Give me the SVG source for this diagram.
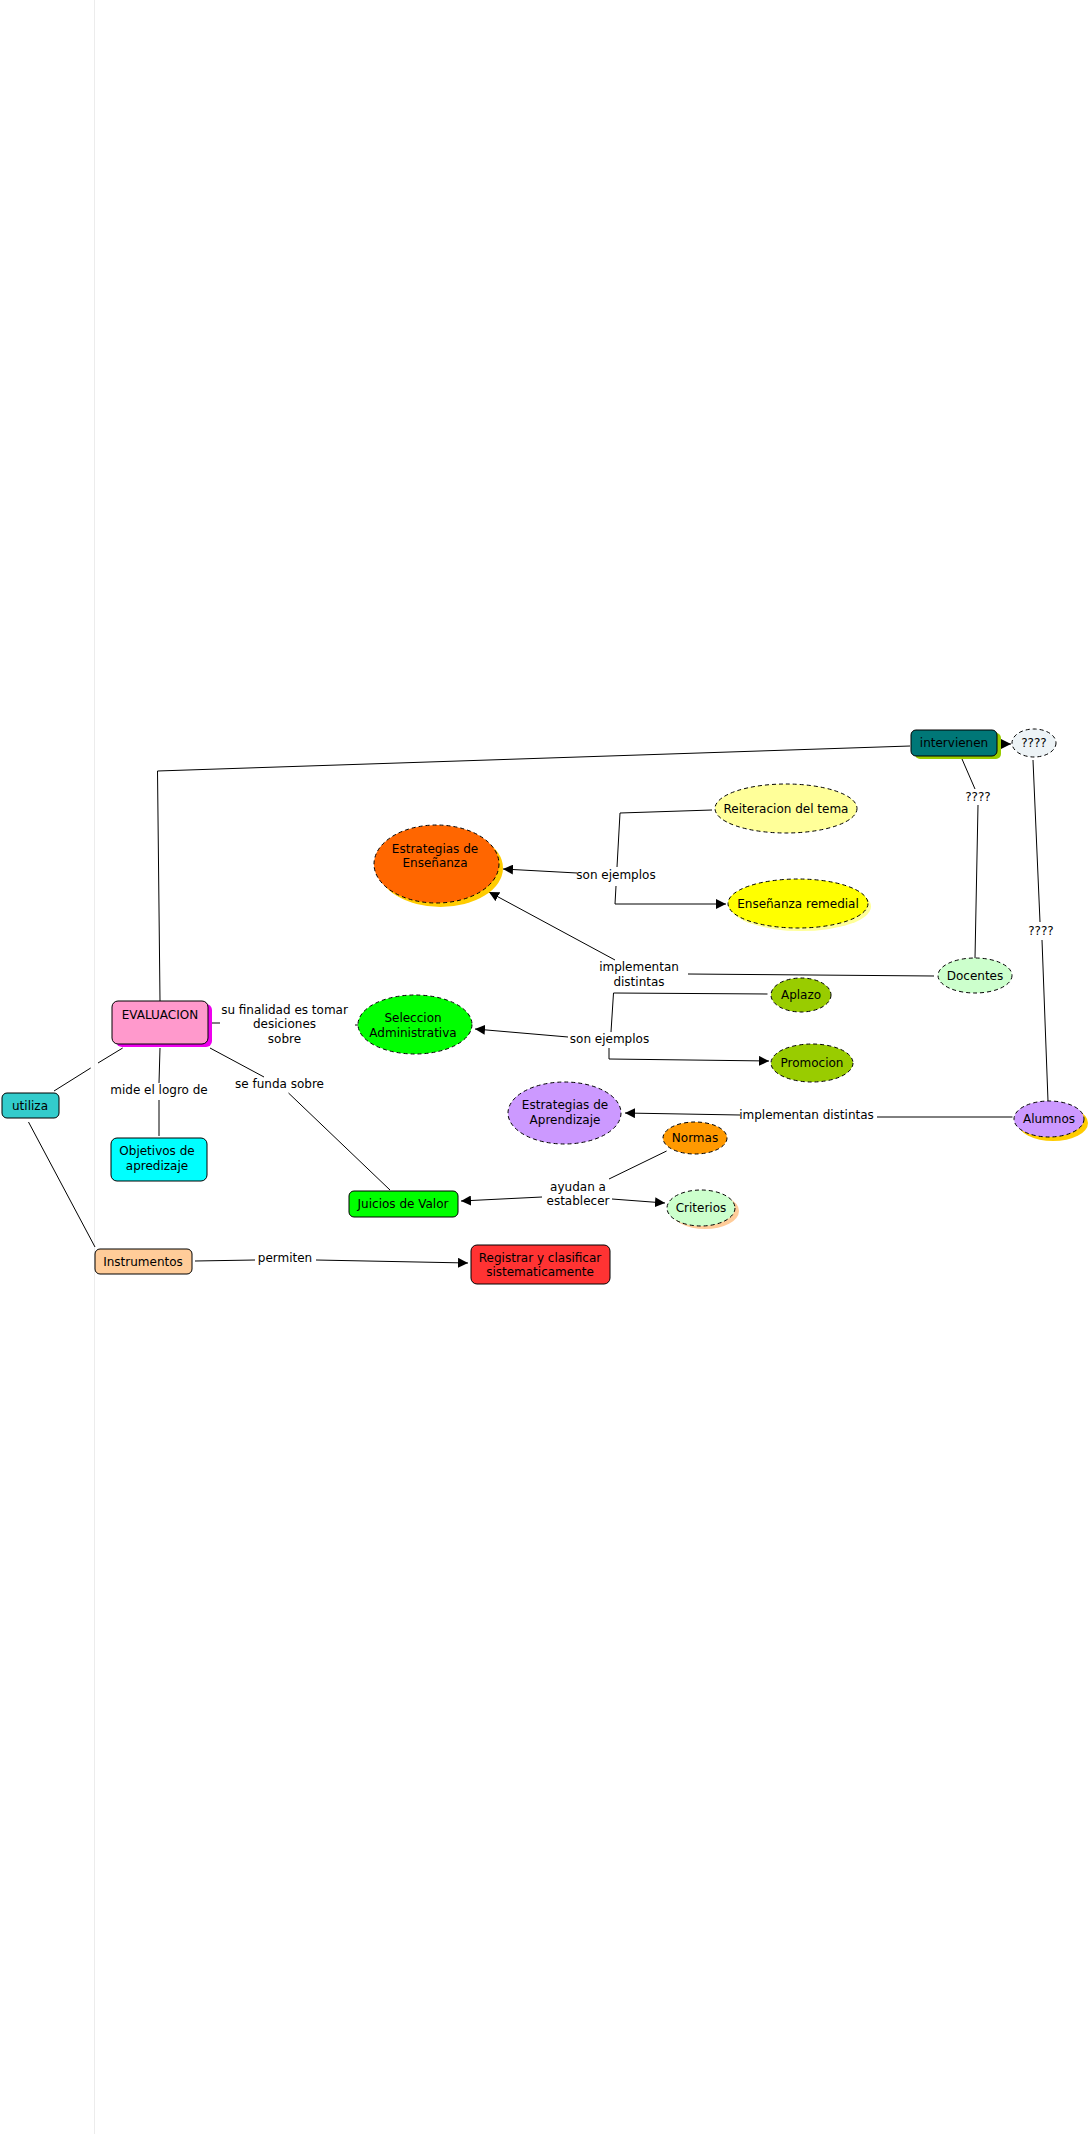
<svg xmlns="http://www.w3.org/2000/svg" width="1090" height="2134" viewBox="0 0 1090 2134">
<style>
text{font-family:"DejaVu Sans","Verdana",sans-serif;font-size:12px;fill:#000;text-anchor:middle}
.c{fill:none;stroke:#000;stroke-width:1}
.a{marker-end:url(#arr)}
.e{stroke:#000;stroke-width:1;stroke-dasharray:4,3}
.b{stroke:#000;stroke-width:1}
</style>
<defs>
<marker id="arr" viewBox="0 0 10 10" refX="10" refY="5" markerWidth="10" markerHeight="10" markerUnits="userSpaceOnUse" orient="auto">
<path d="M0,0 L10,5 L0,10 z" fill="#000"/>
</marker>
</defs>
<rect width="1090" height="2134" fill="#fff"/>
<line x1="94.5" y1="0" x2="94.5" y2="2134" stroke="#ececec" stroke-width="1"/>

<g id="connectors">
<polyline class="c" points="160,1001 157.5,771 910,746"/>
<line class="c a" x1="1001" y1="744" x2="1011" y2="744"/>
<line class="c" x1="962" y1="759" x2="975" y2="789"/>
<line class="c" x1="978" y1="805" x2="975" y2="958"/>
<line class="c" x1="1033" y1="760" x2="1040" y2="922"/>
<line class="c" x1="1042" y1="940" x2="1048" y2="1101"/>
<line class="c a" x1="577" y1="873" x2="503" y2="869"/>
<polyline class="c" points="617,867 620,813 712,810"/>
<polyline class="c a" points="616,886 615,904 726,904"/>
<line class="c" x1="934" y1="976" x2="688" y2="974"/>
<line class="c a" x1="615" y1="960" x2="489" y2="892"/>
<line class="c a" x1="568" y1="1037" x2="475" y2="1029"/>
<polyline class="c" points="611,1032 613.5,993 767.5,994"/>
<polyline class="c a" points="609,1048 609,1059 769,1061"/>
<line class="c" x1="1012.5" y1="1117" x2="877" y2="1117"/>
<line class="c a" x1="740" y1="1115" x2="625" y2="1113"/>
<line class="c" x1="666.6" y1="1151" x2="609" y2="1179"/>
<line class="c a" x1="542" y1="1197" x2="461" y2="1201"/>
<line class="c a" x1="612" y1="1199" x2="665" y2="1203"/>
<line class="c" x1="212" y1="1023" x2="220" y2="1023"/>
<line class="c" x1="355" y1="1025" x2="358" y2="1025"/>
<line class="c" x1="54" y1="1091" x2="90.7" y2="1068"/>
<line class="c" x1="98" y1="1063" x2="122.7" y2="1048"/>
<line class="c" x1="160" y1="1048" x2="159" y2="1083"/>
<line class="c" x1="159" y1="1100" x2="159" y2="1136"/>
<line class="c" x1="210" y1="1048" x2="264" y2="1077"/>
<line class="c" x1="288.5" y1="1093" x2="390" y2="1190"/>
<line class="c" x1="28.5" y1="1122" x2="95" y2="1247"/>
<line class="c" x1="195" y1="1261" x2="255" y2="1260"/>
<line class="c a" x1="316" y1="1260" x2="468" y2="1263"/>
</g>

<g id="labels">
<text x="978" y="801">????</text>
<text x="1041" y="935">????</text>
<text x="616" y="879">son ejemplos</text>
<text x="639" y="971">implementan</text>
<text x="639" y="986">distintas</text>
<text x="609.5" y="1043">son ejemplos</text>
<text x="806.5" y="1119">implementan distintas</text>
<text x="578" y="1191">ayudan a</text>
<text x="578" y="1205">establecer</text>
<text x="284.5" y="1014">su finalidad es tomar</text>
<text x="284.5" y="1028">desiciones</text>
<text x="284.5" y="1043">sobre</text>
<text x="159" y="1094">mide el logro de</text>
<text x="279.5" y="1088">se funda sobre</text>
<text x="285" y="1262">permiten</text>
</g>

<g id="node-evaluacion">
<rect x="116" y="1004" width="96" height="43" rx="6" fill="#ee00ee"/>
<rect class="b" x="112" y="1001" width="96" height="43" rx="6" fill="#ff99cc"/>
<text x="160" y="1019">EVALUACION</text>
</g>
<g id="node-intervienen">
<rect x="915" y="733" width="86" height="26" rx="5" fill="#99cc00"/>
<rect class="b" x="911" y="730" width="86" height="26" rx="5" fill="#007777"/>
<text x="954" y="747">intervienen</text>
</g>
<g id="node-q">
<ellipse class="e" cx="1034" cy="743" rx="22" ry="14" fill="#edf3f6"/>
<text x="1034" y="747">????</text>
</g>
<g id="node-estrategias-ensenanza">
<ellipse cx="440.5" cy="868" rx="62.5" ry="39" fill="#ffcc00"/>
<ellipse class="e" cx="436.5" cy="864" rx="62.5" ry="39" fill="#ff6600"/>
<text x="435" y="853">Estrategias de</text>
<text x="435" y="867">Enseñanza</text>
</g>
<g id="node-reiteracion">
<ellipse class="e" cx="786" cy="808.5" rx="71" ry="24.5" fill="#ffff99"/>
<text x="786" y="813">Reiteracion del tema</text>
</g>
<g id="node-remedial">
<ellipse cx="801" cy="906.5" rx="70" ry="24.5" fill="#ffff99"/>
<ellipse class="e" cx="798" cy="903.5" rx="70" ry="24.5" fill="#ffff00"/>
<text x="798" y="908">Enseñanza remedial</text>
</g>
<g id="node-docentes">
<ellipse class="e" cx="975" cy="975.5" rx="37" ry="17.5" fill="#ccffcc"/>
<text x="975" y="980">Docentes</text>
</g>
<g id="node-aplazo">
<ellipse class="e" cx="801" cy="995" rx="30" ry="17" fill="#99cc00"/>
<text x="801" y="999">Aplazo</text>
</g>
<g id="node-seleccion">
<ellipse class="e" cx="415" cy="1024.5" rx="57" ry="29.5" fill="#00ff00"/>
<text x="413" y="1022">Seleccion</text>
<text x="413" y="1037">Administrativa</text>
</g>
<g id="node-promocion">
<ellipse class="e" cx="812" cy="1063" rx="41" ry="19" fill="#99cc00"/>
<text x="812" y="1067">Promocion</text>
</g>
<g id="node-estrategias-aprendizaje">
<ellipse class="e" cx="564.5" cy="1113" rx="56.5" ry="31" fill="#cc99ff"/>
<text x="565" y="1109">Estrategias de</text>
<text x="565" y="1124">Aprendizaje</text>
</g>
<g id="node-alumnos">
<ellipse cx="1053" cy="1123" rx="35" ry="18" fill="#ffcc00"/>
<ellipse class="e" cx="1049" cy="1119" rx="35" ry="18" fill="#cc99ff"/>
<text x="1049" y="1123">Alumnos</text>
</g>
<g id="node-normas">
<ellipse class="e" cx="695" cy="1138" rx="32" ry="16" fill="#ff9900"/>
<text x="695" y="1142">Normas</text>
</g>
<g id="node-criterios">
<ellipse cx="705" cy="1211" rx="34" ry="18" fill="#ffcc99"/>
<ellipse class="e" cx="701" cy="1208" rx="34" ry="18" fill="#ccffcc"/>
<text x="701" y="1212">Criterios</text>
</g>
<g id="node-juicios">
<rect class="b" x="349" y="1191" width="109" height="26" rx="5" fill="#00ff00"/>
<text x="403" y="1208">Juicios de Valor</text>
</g>
<g id="node-registrar">
<rect class="b" x="471" y="1245" width="139" height="39" rx="6" fill="#ff3333"/>
<text x="540" y="1262">Registrar y clasificar</text>
<text x="540" y="1276">sistematicamente</text>
</g>
<g id="node-objetivos">
<rect class="b" x="111" y="1138" width="96" height="43" rx="6" fill="#00ffff"/>
<text x="157" y="1155">Objetivos de</text>
<text x="157" y="1170">apredizaje</text>
</g>
<g id="node-utiliza">
<rect class="b" x="2" y="1093" width="57" height="25" rx="5" fill="#33cccc"/>
<text x="30" y="1110">utiliza</text>
</g>
<g id="node-instrumentos">
<rect class="b" x="95" y="1249" width="97" height="25" rx="5" fill="#ffcc99"/>
<text x="143" y="1266">Instrumentos</text>
</g>
</svg>
